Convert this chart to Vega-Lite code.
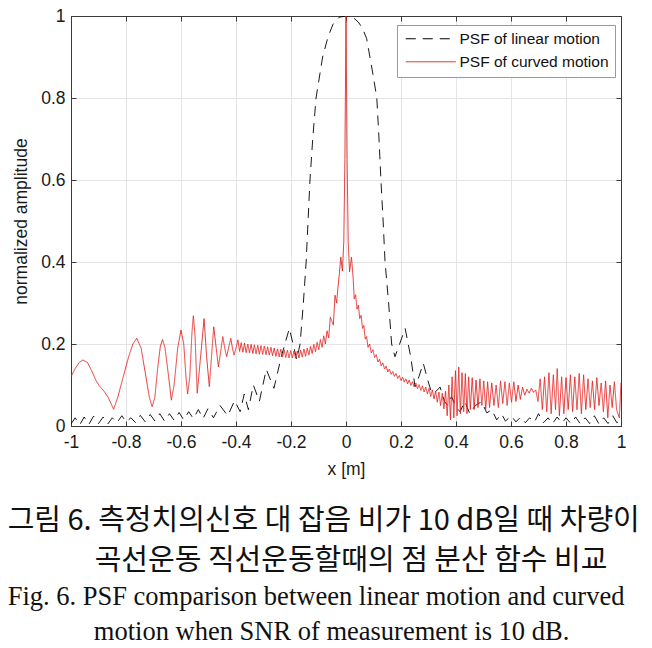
{
  "$schema": "https://vega.github.io/schema/vega-lite/v6.json",
  "width": 550,
  "height": 410,
  "autosize": {"type": "none"},
  "padding": {"left": 71, "top": 16, "right": 31, "bottom": 222},
  "background": "white",
  "config": {
    "view": {"stroke": "#3a3a3a", "strokeWidth": 1},
    "axis": {
      "labelFont": "Liberation Sans", "titleFont": "Liberation Sans",
      "labelFontSize": 17.5, "titleFontSize": 17.5, "labelColor": "#1a1a1a", "titleColor": "#1a1a1a",
      "titleFontWeight": "normal", "domainColor": "#3a3a3a", "tickColor": "#3a3a3a",
      "gridColor": "#e4e4e4", "gridWidth": 1, "tickSize": -5, "labelPadding": 10
    }
  },
  "title": {
    "text": ["그림 6. 측정치의신호 대 잡음 비가 10 dB일 때 차량이", "\u200b\u3000\u3000\u3000곡선운동 직선운동할때의 점 분산 함수 비교"],
    "subtitle": ["Fig. 6. PSF comparison between linear motion and curved", "\u200b\u00a0\u00a0\u00a0\u00a0\u00a0\u00a0\u00a0\u00a0\u00a0\u00a0\u00a0\u00a0\u00a0motion when SNR of measurement is 10 dB."],
    "orient": "bottom", "anchor": "start", "frame": "bounds", "dx": -5,
    "font": "Noto Sans CJK KR", "fontSize": 29, "fontWeight": "normal", "color": "#111",
    "lineHeight": 40, "subtitleFont": "Liberation Serif", "subtitleFontSize": 26.5,
    "subtitleColor": "#111", "subtitleLineHeight": 35, "subtitlePadding": 8, "offset": 29
  },
  "data": {"values": [
    {"s":"linear","x":-1,"y":0.005},{"s":"linear","x":-0.985,"y":0.02},{"s":"linear","x":-0.968,"y":0.003},{"s":"linear","x":-0.952,"y":0.022},{"s":"linear","x":-0.935,"y":0.004},{"s":"linear","x":-0.918,"y":0.024},{"s":"linear","x":-0.9,"y":0.006},{"s":"linear","x":-0.883,"y":0.022},{"s":"linear","x":-0.866,"y":0.005},{"s":"linear","x":-0.85,"y":0.02},{"s":"linear","x":-0.833,"y":0.008},{"s":"linear","x":-0.815,"y":0.025},{"s":"linear","x":-0.8,"y":0.01},{"s":"linear","x":-0.782,"y":0.02},{"s":"linear","x":-0.765,"y":0.008},{"s":"linear","x":-0.748,"y":0.026},{"s":"linear","x":-0.73,"y":0.01},{"s":"linear","x":-0.712,"y":0.028},{"s":"linear","x":-0.695,"y":0.012},{"s":"linear","x":-0.677,"y":0.03},{"s":"linear","x":-0.66,"y":0.012},{"s":"linear","x":-0.642,"y":0.03},{"s":"linear","x":-0.625,"y":0.014},{"s":"linear","x":-0.607,"y":0.033},{"s":"linear","x":-0.59,"y":0.015},{"s":"linear","x":-0.572,"y":0.035},{"s":"linear","x":-0.555,"y":0.018},{"s":"linear","x":-0.537,"y":0.04},{"s":"linear","x":-0.52,"y":0.018},{"s":"linear","x":-0.502,"y":0.042},{"s":"linear","x":-0.482,"y":0.02},{"s":"linear","x":-0.458,"y":0.05},{"s":"linear","x":-0.43,"y":0.025},{"s":"linear","x":-0.405,"y":0.062},{"s":"linear","x":-0.385,"y":0.035},{"s":"linear","x":-0.37,"y":0.078},{"s":"linear","x":-0.355,"y":0.04},{"s":"linear","x":-0.337,"y":0.1},{"s":"linear","x":-0.315,"y":0.06},{"s":"linear","x":-0.29,"y":0.138},{"s":"linear","x":-0.262,"y":0.092},{"s":"linear","x":-0.235,"y":0.17},{"s":"linear","x":-0.206,"y":0.238},{"s":"linear","x":-0.179,"y":0.162},{"s":"linear","x":-0.167,"y":0.2},{"s":"linear","x":-0.155,"y":0.3},{"s":"linear","x":-0.145,"y":0.4},{"s":"linear","x":-0.138,"y":0.5},{"s":"linear","x":-0.131,"y":0.6},{"s":"linear","x":-0.121,"y":0.7},{"s":"linear","x":-0.109,"y":0.8},{"s":"linear","x":-0.085,"y":0.9},{"s":"linear","x":-0.065,"y":0.95},{"s":"linear","x":-0.047,"y":0.98},{"s":"linear","x":-0.025,"y":0.997},{"s":"linear","x":0,"y":1},{"s":"linear","x":0.025,"y":0.997},{"s":"linear","x":0.045,"y":0.985},{"s":"linear","x":0.06,"y":0.97},{"s":"linear","x":0.075,"y":0.945},{"s":"linear","x":0.087,"y":0.9},{"s":"linear","x":0.1,"y":0.85},{"s":"linear","x":0.112,"y":0.8},{"s":"linear","x":0.12,"y":0.7},{"s":"linear","x":0.127,"y":0.6},{"s":"linear","x":0.135,"y":0.5},{"s":"linear","x":0.142,"y":0.4},{"s":"linear","x":0.155,"y":0.3},{"s":"linear","x":0.166,"y":0.2},{"s":"linear","x":0.178,"y":0.169},{"s":"linear","x":0.195,"y":0.2},{"s":"linear","x":0.215,"y":0.238},{"s":"linear","x":0.235,"y":0.17},{"s":"linear","x":0.251,"y":0.096},{"s":"linear","x":0.265,"y":0.12},{"s":"linear","x":0.281,"y":0.153},{"s":"linear","x":0.298,"y":0.11},{"s":"linear","x":0.312,"y":0.08},{"s":"linear","x":0.328,"y":0.085},{"s":"linear","x":0.342,"y":0.095},{"s":"linear","x":0.358,"y":0.06},{"s":"linear","x":0.37,"y":0.05},{"s":"linear","x":0.384,"y":0.072},{"s":"linear","x":0.4,"y":0.045},{"s":"linear","x":0.415,"y":0.035},{"s":"linear","x":0.432,"y":0.06},{"s":"linear","x":0.45,"y":0.03},{"s":"linear","x":0.47,"y":0.05},{"s":"linear","x":0.493,"y":0.059},{"s":"linear","x":0.512,"y":0.032},{"s":"linear","x":0.53,"y":0.04},{"s":"linear","x":0.548,"y":0.015},{"s":"linear","x":0.565,"y":0.03},{"s":"linear","x":0.58,"y":0.012},{"s":"linear","x":0.6,"y":0.025},{"s":"linear","x":0.618,"y":0.01},{"s":"linear","x":0.635,"y":0.022},{"s":"linear","x":0.652,"y":0.008},{"s":"linear","x":0.668,"y":0.02},{"s":"linear","x":0.685,"y":0.009},{"s":"linear","x":0.7,"y":0.03},{"s":"linear","x":0.718,"y":0.008},{"s":"linear","x":0.735,"y":0.02},{"s":"linear","x":0.75,"y":0.005},{"s":"linear","x":0.768,"y":0.022},{"s":"linear","x":0.785,"y":0.007},{"s":"linear","x":0.8,"y":0.02},{"s":"linear","x":0.818,"y":0.006},{"s":"linear","x":0.835,"y":0.022},{"s":"linear","x":0.852,"y":0.005},{"s":"linear","x":0.87,"y":0.02},{"s":"linear","x":0.886,"y":0.006},{"s":"linear","x":0.903,"y":0.025},{"s":"linear","x":0.92,"y":0.005},{"s":"linear","x":0.937,"y":0.02},{"s":"linear","x":0.953,"y":0.006},{"s":"linear","x":0.97,"y":0.025},{"s":"linear","x":0.985,"y":0.008},{"s":"linear","x":1,"y":0.015},

    {"s":"curved","x":-1,"y":0.12},{"s":"curved","x":-0.985,"y":0.14},{"s":"curved","x":-0.97,"y":0.155},{"s":"curved","x":-0.957,"y":0.161},{"s":"curved","x":-0.94,"y":0.155},{"s":"curved","x":-0.925,"y":0.135},{"s":"curved","x":-0.91,"y":0.112},{"s":"curved","x":-0.897,"y":0.098},{"s":"curved","x":-0.88,"y":0.085},{"s":"curved","x":-0.865,"y":0.07},{"s":"curved","x":-0.845,"y":0.041},{"s":"curved","x":-0.83,"y":0.07},{"s":"curved","x":-0.81,"y":0.12},{"s":"curved","x":-0.79,"y":0.17},{"s":"curved","x":-0.775,"y":0.2},{"s":"curved","x":-0.761,"y":0.214},{"s":"curved","x":-0.745,"y":0.19},{"s":"curved","x":-0.73,"y":0.13},{"s":"curved","x":-0.715,"y":0.07},{"s":"curved","x":-0.705,"y":0.047},{"s":"curved","x":-0.695,"y":0.07},{"s":"curved","x":-0.685,"y":0.14},{"s":"curved","x":-0.675,"y":0.195},{"s":"curved","x":-0.667,"y":0.211},{"s":"curved","x":-0.658,"y":0.19},{"s":"curved","x":-0.645,"y":0.12},{"s":"curved","x":-0.635,"y":0.063},{"s":"curved","x":-0.625,"y":0.1},{"s":"curved","x":-0.612,"y":0.19},{"s":"curved","x":-0.6,"y":0.234},{"s":"curved","x":-0.59,"y":0.2},{"s":"curved","x":-0.582,"y":0.12},{"s":"curved","x":-0.576,"y":0.078},{"s":"curved","x":-0.568,"y":0.12},{"s":"curved","x":-0.56,"y":0.23},{"s":"curved","x":-0.555,"y":0.269},{"s":"curved","x":-0.549,"y":0.22},{"s":"curved","x":-0.541,"y":0.08},{"s":"curved","x":-0.53,"y":0.16},{"s":"curved","x":-0.516,"y":0.262},{"s":"curved","x":-0.507,"y":0.17},{"s":"curved","x":-0.497,"y":0.096},{"s":"curved","x":-0.489,"y":0.17},{"s":"curved","x":-0.481,"y":0.242},{"s":"curved","x":-0.472,"y":0.19},{"s":"curved","x":-0.464,"y":0.144},{"s":"curved","x":-0.456,"y":0.18},{"s":"curved","x":-0.448,"y":0.218},{"s":"curved","x":-0.441,"y":0.19},{"s":"curved","x":-0.434,"y":0.169},{"s":"curved","x":-0.427,"y":0.19},{"s":"curved","x":-0.419,"y":0.214},{"s":"curved","x":-0.413,"y":0.19},{"s":"curved","x":-0.407,"y":0.173},{"s":"curved","x":-0.4,"y":0.19},{"s":"curved","x":-0.393,"y":0.21},
    {"s":"curved","x":-0.387,"y":0.182},{"s":"curved","x":-0.381,"y":0.203},{"s":"curved","x":-0.375,"y":0.18},{"s":"curved","x":-0.369,"y":0.202},{"s":"curved","x":-0.363,"y":0.179},{"s":"curved","x":-0.357,"y":0.2},{"s":"curved","x":-0.351,"y":0.178},{"s":"curved","x":-0.345,"y":0.199},{"s":"curved","x":-0.339,"y":0.177},{"s":"curved","x":-0.333,"y":0.198},{"s":"curved","x":-0.327,"y":0.176},{"s":"curved","x":-0.321,"y":0.197},{"s":"curved","x":-0.315,"y":0.175},{"s":"curved","x":-0.309,"y":0.196},{"s":"curved","x":-0.303,"y":0.175},{"s":"curved","x":-0.297,"y":0.195},{"s":"curved","x":-0.291,"y":0.174},{"s":"curved","x":-0.285,"y":0.193},{"s":"curved","x":-0.279,"y":0.173},{"s":"curved","x":-0.273,"y":0.192},{"s":"curved","x":-0.267,"y":0.171},{"s":"curved","x":-0.261,"y":0.19},{"s":"curved","x":-0.255,"y":0.17},{"s":"curved","x":-0.249,"y":0.188},{"s":"curved","x":-0.243,"y":0.169},{"s":"curved","x":-0.237,"y":0.187},{"s":"curved","x":-0.231,"y":0.168},{"s":"curved","x":-0.225,"y":0.186},{"s":"curved","x":-0.219,"y":0.167},{"s":"curved","x":-0.213,"y":0.185},{"s":"curved","x":-0.207,"y":0.166},{"s":"curved","x":-0.201,"y":0.184},{"s":"curved","x":-0.195,"y":0.166},{"s":"curved","x":-0.189,"y":0.183},{"s":"curved","x":-0.183,"y":0.165},{"s":"curved","x":-0.177,"y":0.183},{"s":"curved","x":-0.171,"y":0.166},{"s":"curved","x":-0.165,"y":0.185},{"s":"curved","x":-0.159,"y":0.168},{"s":"curved","x":-0.153,"y":0.188},{"s":"curved","x":-0.147,"y":0.17},{"s":"curved","x":-0.141,"y":0.19},{"s":"curved","x":-0.135,"y":0.173},{"s":"curved","x":-0.129,"y":0.194},{"s":"curved","x":-0.123,"y":0.177},{"s":"curved","x":-0.117,"y":0.199},{"s":"curved","x":-0.111,"y":0.181},{"s":"curved","x":-0.105,"y":0.204},{"s":"curved","x":-0.099,"y":0.186},{"s":"curved","x":-0.093,"y":0.211},{"s":"curved","x":-0.087,"y":0.192},{"s":"curved","x":-0.081,"y":0.22},{"s":"curved","x":-0.075,"y":0.2},{"s":"curved","x":-0.069,"y":0.232},{"s":"curved","x":-0.063,"y":0.215},{"s":"curved","x":-0.057,"y":0.266},{"s":"curved","x":-0.046,"y":0.246},{"s":"curved","x":-0.04,"y":0.319},{"s":"curved","x":-0.034,"y":0.3},{"s":"curved","x":-0.029,"y":0.34},{"s":"curved","x":-0.024,"y":0.372},{"s":"curved","x":-0.019,"y":0.412},{"s":"curved","x":-0.013,"y":0.378},{"s":"curved","x":-0.008,"y":0.45},{"s":"curved","x":-0.004,"y":0.65},{"s":"curved","x":0,"y":1},{"s":"curved","x":0.004,"y":0.65},{"s":"curved","x":0.008,"y":0.45},{"s":"curved","x":0.013,"y":0.376},{"s":"curved","x":0.02,"y":0.412},{"s":"curved","x":0.026,"y":0.36},{"s":"curved","x":0.03,"y":0.31},{"s":"curved","x":0.035,"y":0.32},{"s":"curved","x":0.04,"y":0.285},{"s":"curved","x":0.045,"y":0.295},{"s":"curved","x":0.05,"y":0.262},{"s":"curved","x":0.055,"y":0.27},{"s":"curved","x":0.06,"y":0.238},{"s":"curved","x":0.065,"y":0.245},{"s":"curved","x":0.07,"y":0.212},{"s":"curved","x":0.075,"y":0.218},{"s":"curved","x":0.08,"y":0.192},{"s":"curved","x":0.086,"y":0.2},{"s":"curved","x":0.092,"y":0.178},{"s":"curved","x":0.098,"y":0.186},{"s":"curved","x":0.104,"y":0.167},{"s":"curved","x":0.11,"y":0.174},{"s":"curved","x":0.116,"y":0.156},{"s":"curved","x":0.122,"y":0.163},{"s":"curved","x":0.128,"y":0.147},{"s":"curved","x":0.134,"y":0.154},{"s":"curved","x":0.14,"y":0.139},{"s":"curved","x":0.146,"y":0.146},{"s":"curved","x":0.152,"y":0.132},{"s":"curved","x":0.158,"y":0.139},{"s":"curved","x":0.164,"y":0.126},{"s":"curved","x":0.17,"y":0.133},{"s":"curved","x":0.176,"y":0.121},{"s":"curved","x":0.182,"y":0.128},{"s":"curved","x":0.188,"y":0.116},{"s":"curved","x":0.194,"y":0.123},{"s":"curved","x":0.2,"y":0.111},{"s":"curved","x":0.206,"y":0.119},{"s":"curved","x":0.212,"y":0.107},{"s":"curved","x":0.218,"y":0.115},{"s":"curved","x":0.224,"y":0.103},{"s":"curved","x":0.23,"y":0.112},{"s":"curved","x":0.236,"y":0.099},{"s":"curved","x":0.242,"y":0.108},{"s":"curved","x":0.248,"y":0.095},{"s":"curved","x":0.254,"y":0.105},{"s":"curved","x":0.26,"y":0.091},{"s":"curved","x":0.266,"y":0.101},{"s":"curved","x":0.272,"y":0.087},{"s":"curved","x":0.278,"y":0.098},{"s":"curved","x":0.284,"y":0.083},{"s":"curved","x":0.29,"y":0.095},{"s":"curved","x":0.296,"y":0.078},{"s":"curved","x":0.302,"y":0.092},{"s":"curved","x":0.308,"y":0.072},{"s":"curved","x":0.314,"y":0.088},{"s":"curved","x":0.32,"y":0.066},{"s":"curved","x":0.326,"y":0.085},{"s":"curved","x":0.332,"y":0.058},{"s":"curved","x":0.338,"y":0.083},{"s":"curved","x":0.344,"y":0.05},{"s":"curved","x":0.35,"y":0.08},{"s":"curved","x":0.356,"y":0.042},{"s":"curved","x":0.362,"y":0.085},{"s":"curved","x":0.368,"y":0.025},{"s":"curved","x":0.374,"y":0.1},{"s":"curved","x":0.38,"y":0.015},{"s":"curved","x":0.386,"y":0.12},{"s":"curved","x":0.392,"y":0.02},{"s":"curved","x":0.398,"y":0.135},{"s":"curved","x":0.404,"y":0.025},{"s":"curved","x":0.41,"y":0.144},{"s":"curved","x":0.416,"y":0.03},{"s":"curved","x":0.422,"y":0.13},{"s":"curved","x":0.428,"y":0.035},{"s":"curved","x":0.434,"y":0.128},{"s":"curved","x":0.44,"y":0.03},{"s":"curved","x":0.446,"y":0.12},{"s":"curved","x":0.452,"y":0.04},{"s":"curved","x":0.459,"y":0.118},{"s":"curved","x":0.466,"y":0.04},{"s":"curved","x":0.473,"y":0.112},{"s":"curved","x":0.48,"y":0.045},{"s":"curved","x":0.487,"y":0.115},{"s":"curved","x":0.494,"y":0.05},{"s":"curved","x":0.501,"y":0.11},{"s":"curved","x":0.508,"y":0.04},{"s":"curved","x":0.515,"y":0.108},{"s":"curved","x":0.522,"y":0.045},{"s":"curved","x":0.53,"y":0.105},{"s":"curved","x":0.538,"y":0.05},{"s":"curved","x":0.546,"y":0.1},{"s":"curved","x":0.554,"y":0.045},{"s":"curved","x":0.562,"y":0.11},{"s":"curved","x":0.57,"y":0.055},{"s":"curved","x":0.578,"y":0.108},{"s":"curved","x":0.586,"y":0.05},{"s":"curved","x":0.594,"y":0.105},{"s":"curved","x":0.602,"y":0.058},{"s":"curved","x":0.61,"y":0.108},{"s":"curved","x":0.618,"y":0.06},{"s":"curved","x":0.626,"y":0.1},{"s":"curved","x":0.634,"y":0.065},{"s":"curved","x":0.642,"y":0.095},{"s":"curved","x":0.65,"y":0.075},{"s":"curved","x":0.658,"y":0.09},{"s":"curved","x":0.666,"y":0.08},{"s":"curved","x":0.674,"y":0.092},{"s":"curved","x":0.682,"y":0.082},{"s":"curved","x":0.69,"y":0.088},{"s":"curved","x":0.698,"y":0.06},{"s":"curved","x":0.706,"y":0.115},{"s":"curved","x":0.714,"y":0.04},{"s":"curved","x":0.722,"y":0.12},{"s":"curved","x":0.73,"y":0.035},{"s":"curved","x":0.738,"y":0.13},{"s":"curved","x":0.746,"y":0.03},{"s":"curved","x":0.754,"y":0.125},{"s":"curved","x":0.762,"y":0.04},{"s":"curved","x":0.768,"y":0.14},{"s":"curved","x":0.776,"y":0.025},{"s":"curved","x":0.784,"y":0.12},{"s":"curved","x":0.792,"y":0.03},{"s":"curved","x":0.8,"y":0.118},{"s":"curved","x":0.808,"y":0.04},{"s":"curved","x":0.816,"y":0.125},{"s":"curved","x":0.824,"y":0.035},{"s":"curved","x":0.832,"y":0.12},{"s":"curved","x":0.84,"y":0.04},{"s":"curved","x":0.848,"y":0.128},{"s":"curved","x":0.856,"y":0.03},{"s":"curved","x":0.864,"y":0.125},{"s":"curved","x":0.872,"y":0.04},{"s":"curved","x":0.88,"y":0.115},{"s":"curved","x":0.888,"y":0.045},{"s":"curved","x":0.896,"y":0.11},{"s":"curved","x":0.904,"y":0.04},{"s":"curved","x":0.912,"y":0.118},{"s":"curved","x":0.92,"y":0.05},{"s":"curved","x":0.928,"y":0.105},{"s":"curved","x":0.936,"y":0.035},{"s":"curved","x":0.944,"y":0.11},{"s":"curved","x":0.952,"y":0.02},{"s":"curved","x":0.96,"y":0.1},{"s":"curved","x":0.968,"y":0.045},{"s":"curved","x":0.976,"y":0.108},{"s":"curved","x":0.984,"y":0.04},{"s":"curved","x":0.994,"y":0.02},{"s":"curved","x":1,"y":0.105}
  ]},
  "resolve": {"axis": {"x": "independent", "y": "independent"}},
  "layer": [
    {
      "mark": {"type": "line", "clip": true},
      "encoding": {
        "x": {"field": "x", "type": "quantitative", "scale": {"domain": [-1, 1], "nice": false, "zero": false},
              "axis": {"title": "x [m]", "titlePadding": 10, "labelPadding": 12, "grid": true, "values": [-1,-0.8,-0.6,-0.4,-0.2,0,0.2,0.4,0.6,0.8,1], "labelExpr": "'' + datum.value", "labelFlush": false}},
        "y": {"field": "y", "type": "quantitative", "scale": {"domain": [0, 1], "nice": false},
              "axis": {"title": "normalized amplitude", "titlePadding": 10, "labelPadding": 11, "grid": true, "values": [0,0.2,0.4,0.6,0.8,1], "labelExpr": "'' + datum.value", "labelFlush": false}},
        "color": {"field": "s", "type": "nominal", "scale": {"domain": ["linear", "curved"], "range": ["#000000", "#e3211f"]},
                  "legend": {"title": null, "orient": "none", "legendX": 326, "legendY": 9, "labelExpr": "datum.label == 'linear' ? 'PSF of linear motion' : 'PSF of curved motion'",
                             "symbolType": "M-5,0L5,0", "symbolSize": 100, "symbolStrokeWidth": 1, "symbolOffset": 20, "labelFont": "Liberation Sans", "labelFontSize": 15.5, "labelColor": "#111",
                             "strokeColor": "#9a9a9a", "fillColor": "white", "padding": 6, "rowPadding": 6, "labelOffset": 21}},
        "strokeDash": {"field": "s", "type": "nominal", "scale": {"domain": ["linear", "curved"], "range": [[10, 7], [1, 0]]},
                  "legend": {"title": null, "orient": "none", "legendX": 326, "legendY": 9, "labelExpr": "datum.label == 'linear' ? 'PSF of linear motion' : 'PSF of curved motion'",
                             "symbolType": "M-5,0L5,0", "symbolSize": 100, "symbolStrokeWidth": 1, "symbolOffset": 20, "labelFont": "Liberation Sans", "labelFontSize": 15.5, "labelColor": "#111",
                             "strokeColor": "#9a9a9a", "fillColor": "white", "padding": 6, "rowPadding": 6, "labelOffset": 21}},
        "strokeWidth": {"value": 0.9},
        "order": {"field": "x", "type": "quantitative"}
      }
    },
    {
      "mark": {"type": "point", "opacity": 0},
      "encoding": {
        "x": {"field": "x", "type": "quantitative", "axis": {"orient": "top", "labels": false, "title": null, "grid": false, "values": [-1,-0.8,-0.6,-0.4,-0.2,0,0.2,0.4,0.6,0.8,1]}},
        "y": {"field": "y", "type": "quantitative", "axis": {"orient": "right", "labels": false, "title": null, "grid": false, "values": [0,0.2,0.4,0.6,0.8,1]}}
      }
    }
  ]
}
